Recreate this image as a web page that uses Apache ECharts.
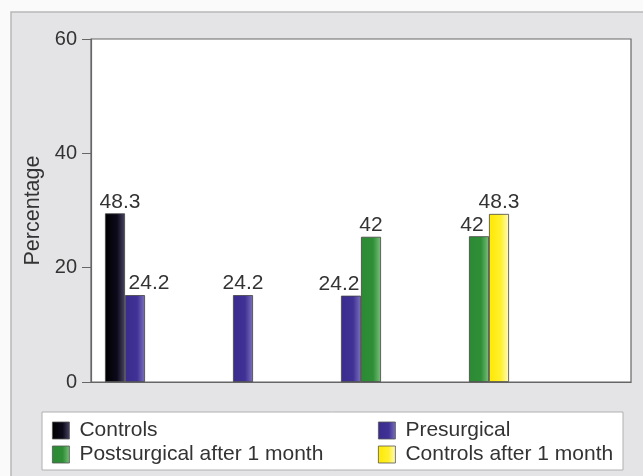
<!DOCTYPE html>
<html>
<head>
<meta charset="utf-8">
<script src="https://cdn.jsdelivr.net/npm/echarts@6/dist/echarts.min.js"></script>
<style>
html,body{margin:0;padding:0;background:#fafafa;}
#chart{width:643px;height:476px;}
</style>
</head>
<body>
<div id="chart"></div>
<script>
// ---- data ----
const categories = ['1', '2', '3', '4', '5'];
const seriesNames = ['Controls', 'Presurgical', 'Postsurgical after 1 month', 'Controls after 1 month'];
const controls      = [29.5, null, null, null, null];
const presurgical   = [15.2, 15.2, 15.1, null, null];
const postsurgical  = [null, null, 25.4, 25.5, null];
const controlsAfter = [null, null, null, 29.4, null];
const controlsText      = ['48.3', '', '', '', ''];
const presurgicalText   = ['24.2', '24.2', '24.2', '', ''];
const postsurgicalText  = ['', '', '42', '42', ''];
const controlsAfterText = ['', '', '', '48.3', ''];
const yTicks = [0, 20, 40, 60];

// ---- styles ----
const FONT = 'Liberation Sans, Arial, sans-serif';
function grad(c1, c2, c3) {
  return new echarts.graphic.LinearGradient(0, 0, 1, 0, [
    {offset: 0, color: c1}, {offset: 0.6, color: c2}, {offset: 1, color: c3}
  ]);
}
const fills = [
  grad('#000000', '#0c0a1a', '#4a4565'),
  grad('#3a2c8e', '#3f3195', '#7b72bd'),
  grad('#2b8a33', '#2f8f37', '#7cc07c'),
  grad('#ffe800', '#fff030', '#fffbc8')
];
// small horizontal nudges of labels, by series then category index
const labelShift = [
  {0: 5},
  {0: 14, 2: -12},
  {3: -7},
  {}
];
const values = [controls, presurgical, postsurgical, controlsAfter];
const texts = [controlsText, presurgicalText, postsurgicalText, controlsAfterText];

const series = seriesNames.map((name, s) => ({
  name,
  type: 'bar',
  barWidth: 20,
  barGap: '0%',
  itemStyle: {color: fills[s], borderColor: '#444', borderWidth: 0.8},
  data: values[s].map((v, i) => ({
    value: v,
    label: {offset: [labelShift[s][i] || 0, 0]}
  })),
  label: {
    show: true,
    position: 'top',
    distance: 1,
    fontFamily: FONT,
    fontSize: 21,
    color: '#333',
    formatter: p => texts[s][p.dataIndex]
  }
}));

const legendCommon = {
  orient: 'vertical', top: 420, padding: 0,
  itemWidth: 17, itemHeight: 17, itemGap: 3,
  icon: 'rect',
  itemStyle: {borderColor: '#555', borderWidth: 0.8},
  textStyle: {fontFamily: FONT, fontSize: 21, color: '#333', padding: [0, 0, 0, 5], lineHeight: 17}
};

const chart = echarts.init(document.getElementById('chart'), null, {renderer: 'canvas'});
chart.setOption({
  backgroundColor: '#fafafa',
  animation: false,
  graphic: [
    {type: 'rect', z: -10, shape: {x: 11, y: 12, width: 640, height: 470},
     style: {fill: '#e4e4e7', stroke: '#b8b8b8', lineWidth: 1.5}},
    {type: 'rect', z: -5, shape: {x: 42, y: 412, width: 581, height: 58},
     style: {fill: '#ffffff', stroke: '#b0b0b0', lineWidth: 1}}
  ],
  grid: {
    left: 91, top: 39, right: 12, bottom: 94,
    show: true, backgroundColor: '#ffffff', borderColor: '#666', borderWidth: 1.2
  },
  legend: [
    Object.assign({data: [seriesNames[0], seriesNames[2]], left: 52}, legendCommon),
    Object.assign({data: [seriesNames[1], seriesNames[3]], left: 378}, legendCommon)
  ],
  xAxis: {
    type: 'category',
    data: categories,
    axisLine: {lineStyle: {color: '#666', width: 1.2}},
    axisTick: {show: false},
    axisLabel: {show: false}
  },
  yAxis: {
    type: 'value',
    min: yTicks[0], max: yTicks[yTicks.length - 1], interval: yTicks[1] - yTicks[0],
    name: 'Percentage',
    nameLocation: 'middle',
    nameGap: 44,
    nameTextStyle: {fontFamily: FONT, fontSize: 21.5, color: '#333'},
    axisLine: {show: true, lineStyle: {color: '#666', width: 1.2}},
    axisTick: {show: true, length: 9, lineStyle: {color: '#666'}},
    splitLine: {show: false},
    axisLabel: {fontFamily: FONT, fontSize: 20, color: '#333', margin: 14}
  },
  series
});
</script>
</body>
</html>
